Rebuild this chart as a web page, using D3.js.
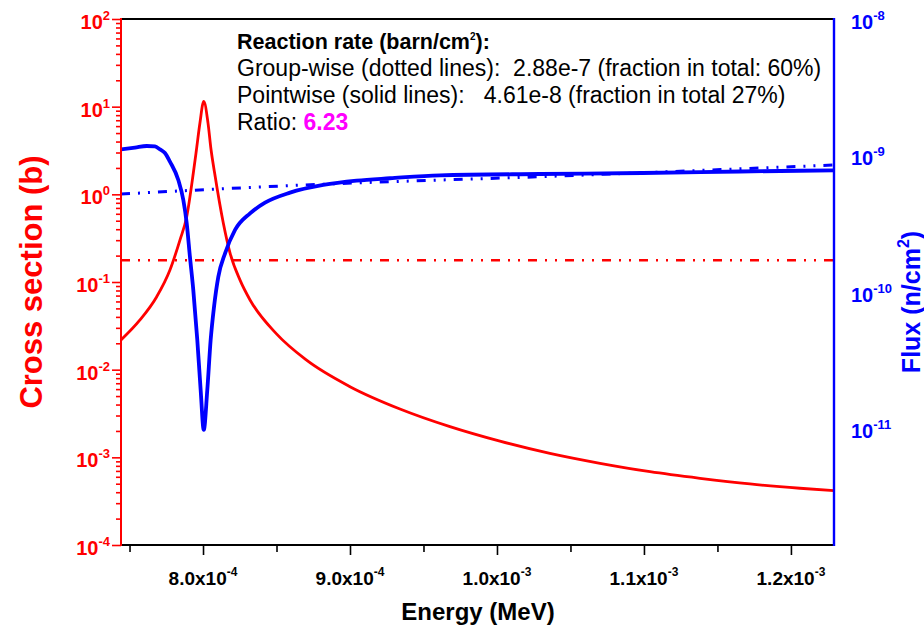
<!DOCTYPE html>
<html><head><meta charset="utf-8">
<script src="https://cdn.jsdelivr.net/npm/d3@7"></script>
<style>body{margin:0;background:#fff}text{font-family:"Liberation Sans",Arial,sans-serif}</style>
</head><body><svg id="c" width="924" height="630"></svg>
<script>
// ---------- data ----------
const xsEnergy = [7.442e-4, 7.571e-4, 7.685e-4, 7.775e-4, 7.843e-4, 7.889e-4, 7.934e-4, 7.955e-4, 7.979e-4, 8.005e-4,
  8.034e-4, 8.055e-4, 8.079e-4, 8.138e-4, 8.184e-4, 8.252e-4, 8.32e-4, 8.5e-4, 8.7e-4, 9.0e-4, 9.34e-4, 9.68e-4,
  1.002e-3, 1.036e-3, 1.0701e-3, 1.1041e-3, 1.1381e-3, 1.1721e-3, 1.2061e-3, 1.2293e-3];
const xsValues = [0.0218, 0.0369, 0.068, 0.137, 0.301, 0.556, 1.75, 3.2, 6.5, 11.5,
  6.5, 3.2, 1.75, 0.471, 0.214, 0.105, 0.0624, 0.0256, 0.0130, 6.4e-3, 3.56e-3, 2.24e-3,
  1.53e-3, 1.11e-3, 8.55e-4, 6.86e-4, 5.77e-4, 4.97e-4, 4.44e-4, 4.17e-4];

const fluxEnergy = [7.442e-4, 7.537e-4, 7.617e-4, 7.673e-4, 7.707e-4, 7.741e-4, 7.775e-4, 7.832e-4, 7.866e-4, 7.889e-4,
  7.911e-4, 7.934e-4, 7.961e-4, 7.984e-4, 8.005e-4, 8.029e-4, 8.052e-4, 8.075e-4, 8.104e-4, 8.150e-4, 8.218e-4,
  8.320e-4, 8.422e-4, 8.592e-4, 8.818e-4, 9.045e-4, 9.272e-4, 9.612e-4, 1.0292e-3, 1.0990e-3, 1.1653e-3, 1.2293e-3];
const fluxValues = [1.11e-9, 1.144e-9, 1.174e-9, 1.164e-9, 1.11e-9, 1.043e-9, 9.01e-10, 6.61e-10, 4.72e-10, 3.19e-10,
  1.81e-10, 1.03e-10, 4.45e-11, 1.91e-11, 9.75e-12, 1.91e-11, 4.45e-11, 7.80e-11, 1.29e-10, 1.92e-10, 2.85e-10,
  3.77e-10, 4.51e-10, 5.34e-10, 6.08e-10, 6.54e-10, 6.81e-10, 7.16e-10, 7.32e-10, 7.44e-10, 7.63e-10, 7.79e-10];

const groupXsEnergy = [7.442e-4, 1.2293e-3];
const groupXsValues = [0.177, 0.177];
const groupFluxEnergy = [7.442e-4, 8.612e-4, 1.0428e-3, 1.2293e-3];
const groupFluxValues = [5.22e-10, 6.03e-10, 7.08e-10, 8.52e-10];

const xTicks = [8.0e-4, 9.0e-4, 1.0e-3, 1.1e-3, 1.2e-3];
const xTickMain = ["8.0x10", "9.0x10", "1.0x10", "1.1x10", "1.2x10"];
const xTickExp = ["-4", "-4", "-3", "-3", "-3"];
const xMinorTicks = [7.5e-4, 8.5e-4, 9.5e-4, 1.05e-3, 1.15e-3];
const yLeftTicks = [1e2, 1e1, 1e0, 1e-1, 1e-2, 1e-3, 1e-4];
const yLeftExp = ["2", "1", "0", "-1", "-2", "-3", "-4"];
const yRightTicks = [1e-8, 1e-9, 1e-10, 1e-11];
const yRightExp = ["-8", "-9", "-10", "-11"];

const noteLines = ["Group-wise (dotted lines):  2.88e-7 (fraction in total: 60%)",
                   "Pointwise (solid lines):   4.61e-8 (fraction in total 27%)"];
const ratioValue = "6.23";

// ---------- layout ----------
const L = 121, R = 834, T = 19, B = 545;
const RED = "#ff0000", BLUE = "#0000ff";
const svg = d3.select("#c");

const x = d3.scaleLinear().domain([7.442e-4, 1.2293e-3]).range([L, R]);
const yL = d3.scaleLog().domain([1e-4, 1e2]).range([B, T]);
const yR = d3.scaleLog().domain([1.40e-12, 1e-8]).range([B, T]);

// minor ticks on left axis
const yLeftMinor = [];
for (let e = -4; e < 2; e++) for (let m = 2; m <= 9; m++) yLeftMinor.push(m * Math.pow(10, e));

// ---------- curves ----------
svg.append("clipPath").attr("id", "clip").append("rect")
  .attr("x", L).attr("y", T).attr("width", R - L).attr("height", B - T);
const plot = svg.append("g").attr("clip-path", "url(#clip)");

const lineL = d3.line().x(d => x(d[0])).y(d => yL(d[1])).curve(d3.curveMonotoneX);
const lineR = d3.line().x(d => x(d[0])).y(d => yR(d[1])).curve(d3.curveMonotoneX);
const dashDotDot = "9,8,2,8,2,8";

plot.append("path").datum(d3.zip(groupXsEnergy, groupXsValues)).attr("d", lineL)
  .attr("fill", "none").attr("stroke", RED).attr("stroke-width", 2.6).attr("stroke-dasharray", dashDotDot);
plot.append("path").datum(d3.zip(xsEnergy, xsValues)).attr("d", lineL)
  .attr("fill", "none").attr("stroke", RED).attr("stroke-width", 2.8).attr("stroke-linejoin", "round");
plot.append("path").datum(d3.zip(groupFluxEnergy, groupFluxValues)).attr("d", lineR)
  .attr("fill", "none").attr("stroke", BLUE).attr("stroke-width", 3).attr("stroke-dasharray", dashDotDot);
plot.append("path").datum(d3.zip(fluxEnergy, fluxValues)).attr("d", lineR)
  .attr("fill", "none").attr("stroke", BLUE).attr("stroke-width", 3.8).attr("stroke-linejoin", "round");

// ---------- axes ----------
function styleAxis(g, color) {
  g.selectAll("path.domain").remove();
  g.selectAll("line").attr("stroke", color).attr("stroke-width", 1.6);
  g.selectAll("text").remove();
}
svg.append("g").attr("transform", `translate(0,${B})`)
  .call(d3.axisBottom(x).tickValues(xMinorTicks).tickSize(7).tickSizeOuter(0)).call(g => styleAxis(g, "#000"));
svg.append("g").attr("transform", `translate(0,${B})`)
  .call(d3.axisBottom(x).tickValues(xTicks).tickSize(10).tickSizeOuter(0)).call(g => styleAxis(g, "#000"));
svg.append("g").attr("transform", `translate(${L},0)`)
  .call(d3.axisLeft(yL).tickValues(yLeftMinor).tickSize(5).tickSizeOuter(0)).call(g => styleAxis(g, RED));
svg.append("g").attr("transform", `translate(${L},0)`)
  .call(d3.axisLeft(yL).tickValues(yLeftTicks).tickSize(9).tickSizeOuter(0)).call(g => styleAxis(g, RED));

// frame lines
svg.append("line").attr("x1", L).attr("x2", R).attr("y1", T).attr("y2", T).attr("stroke", "#000").attr("stroke-width", 2);
svg.append("line").attr("x1", L).attr("x2", R).attr("y1", B).attr("y2", B).attr("stroke", "#000").attr("stroke-width", 2);
svg.append("line").attr("x1", L).attr("x2", L).attr("y1", T - 1).attr("y2", B + 1).attr("stroke", RED).attr("stroke-width", 2);
svg.append("line").attr("x1", R).attr("x2", R).attr("y1", T - 1).attr("y2", B + 1).attr("stroke", BLUE).attr("stroke-width", 2.4);

// tick labels
function supLabel(sel, main, exp, size, supSize) {
  sel.append("tspan").text(main).attr("font-size", size);
  sel.append("tspan").text(exp).attr("font-size", supSize).attr("dy", -size * 0.45);
}
yLeftTicks.forEach((v, i) => {
  const t = svg.append("text").attr("x", L - 11).attr("y", yL(v) + 10).attr("text-anchor", "end")
    .attr("fill", RED).attr("font-weight", "bold");
  supLabel(t, "10", yLeftExp[i], 20, 13);
});
yRightTicks.forEach((v, i) => {
  const t = svg.append("text").attr("x", R + 17).attr("y", yR(v) + 10).attr("text-anchor", "start")
    .attr("fill", BLUE).attr("font-weight", "bold");
  supLabel(t, "10", yRightExp[i], 20, 13);
});
xTicks.forEach((v, i) => {
  const t = svg.append("text").attr("x", x(v)).attr("y", 585).attr("text-anchor", "middle")
    .attr("fill", "#000").attr("font-weight", "bold");
  supLabel(t, xTickMain[i], xTickExp[i], 19, 12);
});

// axis titles
svg.append("text").attr("x", 478).attr("y", 620).attr("text-anchor", "middle")
  .attr("font-size", 24).attr("font-weight", "bold").attr("fill", "#000").text("Energy (MeV)");
svg.append("text").attr("transform", "translate(42,282) rotate(-90)").attr("text-anchor", "middle")
  .attr("font-size", 31).attr("font-weight", "bold").attr("fill", RED).text("Cross section (b)");
const rt = svg.append("text").attr("transform", "translate(920,302) rotate(-90)").attr("text-anchor", "middle")
  .attr("font-weight", "bold").attr("fill", BLUE);
rt.append("tspan").attr("font-size", 25).text("Flux (n/cm");
rt.append("tspan").attr("font-size", 16).attr("dy", -11).text("2");
rt.append("tspan").attr("font-size", 25).attr("dy", 11).text(")");

// annotation
const h = svg.append("text").attr("x", 237).attr("y", 49).attr("font-size", 21.5).attr("font-weight", "bold").attr("fill", "#000");
h.append("tspan").text("Reaction rate (barn/cm");
h.append("tspan").attr("font-size", 10).attr("dy", -9).text("2");
h.append("tspan").attr("dy", 9).text("):");
noteLines.forEach((s, i) => {
  svg.append("text").attr("x", 237).attr("y", 76 + 27 * i).attr("font-size", 23).attr("fill", "#000")
    .style("white-space", "pre").text(s);
});
const r = svg.append("text").attr("x", 237).attr("y", 130).attr("font-size", 23).attr("fill", "#000");
r.append("tspan").text("Ratio: ");
r.append("tspan").attr("font-weight", "bold").attr("fill", "#ff00ff").text(ratioValue);
</script></body></html>
